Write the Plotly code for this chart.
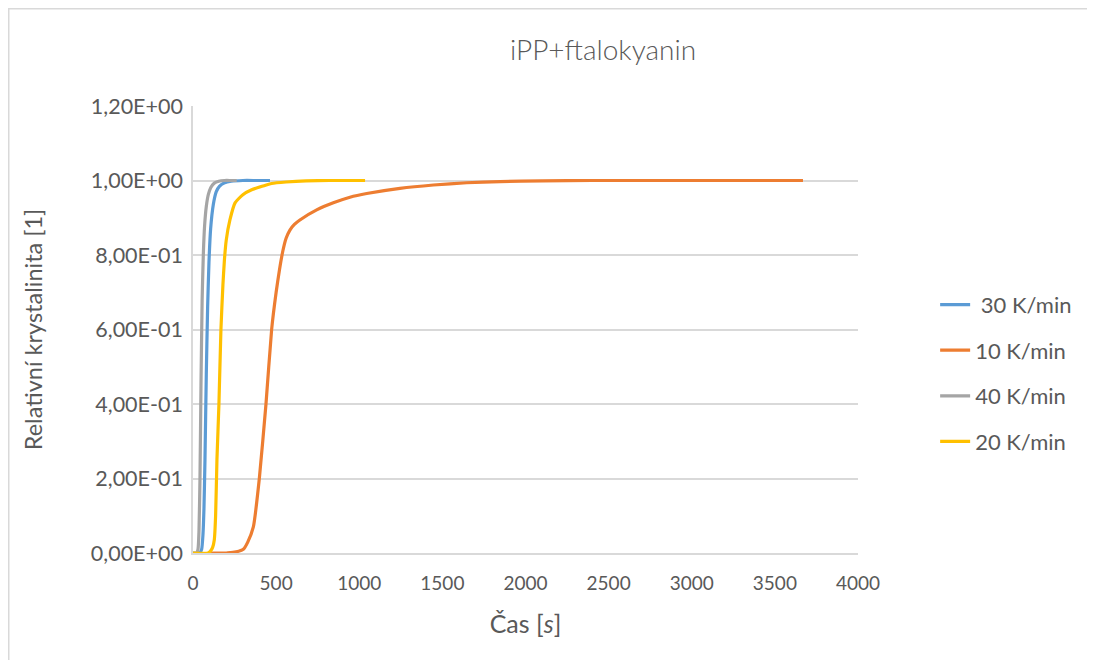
import plotly.graph_objects as go

# ---- data ----
t_40 = [0, 20, 30, 36, 42, 48, 55, 62, 70, 80, 92, 108, 128, 155, 190, 230, 263]
v_40 = [0, 0, 0.01, 0.06, 0.2, 0.45, 0.68, 0.8, 0.88, 0.93, 0.962, 0.982, 0.993, 0.998, 1.0, 1.0, 1.0]

t_30 = [0, 40, 52, 60, 66, 72, 80, 88, 96, 106, 122, 140, 160, 190, 230, 300, 380, 463]
v_30 = [0, 0, 0.01, 0.05, 0.12, 0.25, 0.48, 0.66, 0.78, 0.87, 0.935, 0.97, 0.985, 0.994, 0.998, 1.0, 1.0, 1.0]

t_20 = [0, 90, 105, 118, 128, 136, 144, 156, 168, 180, 189, 200, 222, 253, 300, 353, 420, 473, 560, 680, 820, 1035]
v_20 = [0, 0, 0.005, 0.015, 0.035, 0.1, 0.25, 0.4, 0.6, 0.72, 0.787, 0.84, 0.894, 0.94, 0.962, 0.975, 0.985, 0.992, 0.996, 0.999, 1.0, 1.0]

t_10 = [100, 200, 223, 260, 303, 330, 363, 399, 439, 473, 500, 520, 540, 560, 583, 610, 643, 744, 844, 944,
        1045, 1245, 1446, 1646, 1847, 2100, 2400, 2800, 3200, 3669]
v_10 = [0, 0, 0.001, 0.003, 0.01, 0.03, 0.07, 0.2, 0.4, 0.6, 0.7, 0.76, 0.81, 0.845, 0.867, 0.882, 0.894, 0.921,
        0.94, 0.955, 0.965, 0.979, 0.988, 0.994, 0.997, 0.999, 1.0, 1.0, 1.0, 1.0]

series_names = [" 30 K/min", "10 K/min", "40 K/min", "20 K/min"]
series_colors = ["#5B9BD5", "#ED7D31", "#A5A5A5", "#FFC000"]

x_tick_vals = [0, 500, 1000, 1500, 2000, 2500, 3000, 3500, 4000]
y_tick_vals = [0, 0.2, 0.4, 0.6, 0.8, 1.0, 1.2]
y_tick_text = ["0,00E+00", "2,00E-01", "4,00E-01", "6,00E-01", "8,00E-01", "1,00E+00", "1,20E+00"]

title_text = "iPP+ftalokyanin"
x_title = "Čas [<i>s</i>]"
y_title = "Relativní krystalinita [1]"

# ---- figure ----
FONT = "Lato, 'Open Sans', sans-serif"
TXT = "#595959"
W, H = 1079, 652          # page has an 8px body margin
L, T = 185, 98
PW, PH = 665, 447
BX = (0.75 - L) / PW       # chart border, left
BY = 1 + (T - 0.75) / PH   # chart border, top

fig = go.Figure()
for (tx, vy), name, col in zip([(t_30, v_30), (t_10, v_10), (t_40, v_40), (t_20, v_20)],
                               series_names, series_colors):
    fig.add_trace(go.Scatter(x=tx, y=vy, mode="lines", name=name, legendgroup=name,
                             line=dict(color=col, width=3.2, shape="spline", smoothing=0.5)))

fig.update_layout(
    width=W, height=H,
    paper_bgcolor="white", plot_bgcolor="white",
    margin=dict(l=L, r=W - L - PW, t=T, b=H - T - PH, autoexpand=False),
    font=dict(family=FONT, color=TXT, size=18),
    title=dict(text=title_text, x=595 / W, xanchor="center", xref="container",
               y=1 - 42 / H, yanchor="middle",
               font=dict(family=FONT, size=28, color=TXT, weight=300)),
    showlegend=True,
    legend=dict(x=1.116, xanchor="left", y=0.402, yanchor="middle", tracegroupgap=14,
                font=dict(family=FONT, size=22, color=TXT), bgcolor="rgba(0,0,0,0)"),
    xaxis=dict(range=[0, 4000], tickvals=x_tick_vals, showgrid=False, zeroline=False,
               showline=True, linecolor="#D9D9D9", linewidth=1.5,
               ticks="outside", ticklen=12, tickcolor="rgba(0,0,0,0)",
               tickfont=dict(size=19, color=TXT),
               title=dict(text=x_title, font=dict(size=25, color=TXT), standoff=23)),
    yaxis=dict(range=[0, 1.2], tickvals=y_tick_vals, ticktext=y_tick_text, showgrid=True,
               gridcolor="#D9D9D9", gridwidth=1.5, zeroline=False,
               showline=True, linecolor="#D9D9D9", linewidth=1.5,
               ticks="outside", ticklen=4, tickcolor="rgba(0,0,0,0)",
               tickfont=dict(size=21.5, color=TXT),
               title=dict(text=y_title, font=dict(size=23.5, color=TXT), standoff=42)),
    shapes=[
        dict(type="rect", xref="paper", yref="paper", x0=BX, x1=3.0, y0=-2.0, y1=BY,
             line=dict(color="#D9D9D9", width=1.5), fillcolor="rgba(0,0,0,0)", layer="below"),
    ],
)

fig.write_html("out.html")
